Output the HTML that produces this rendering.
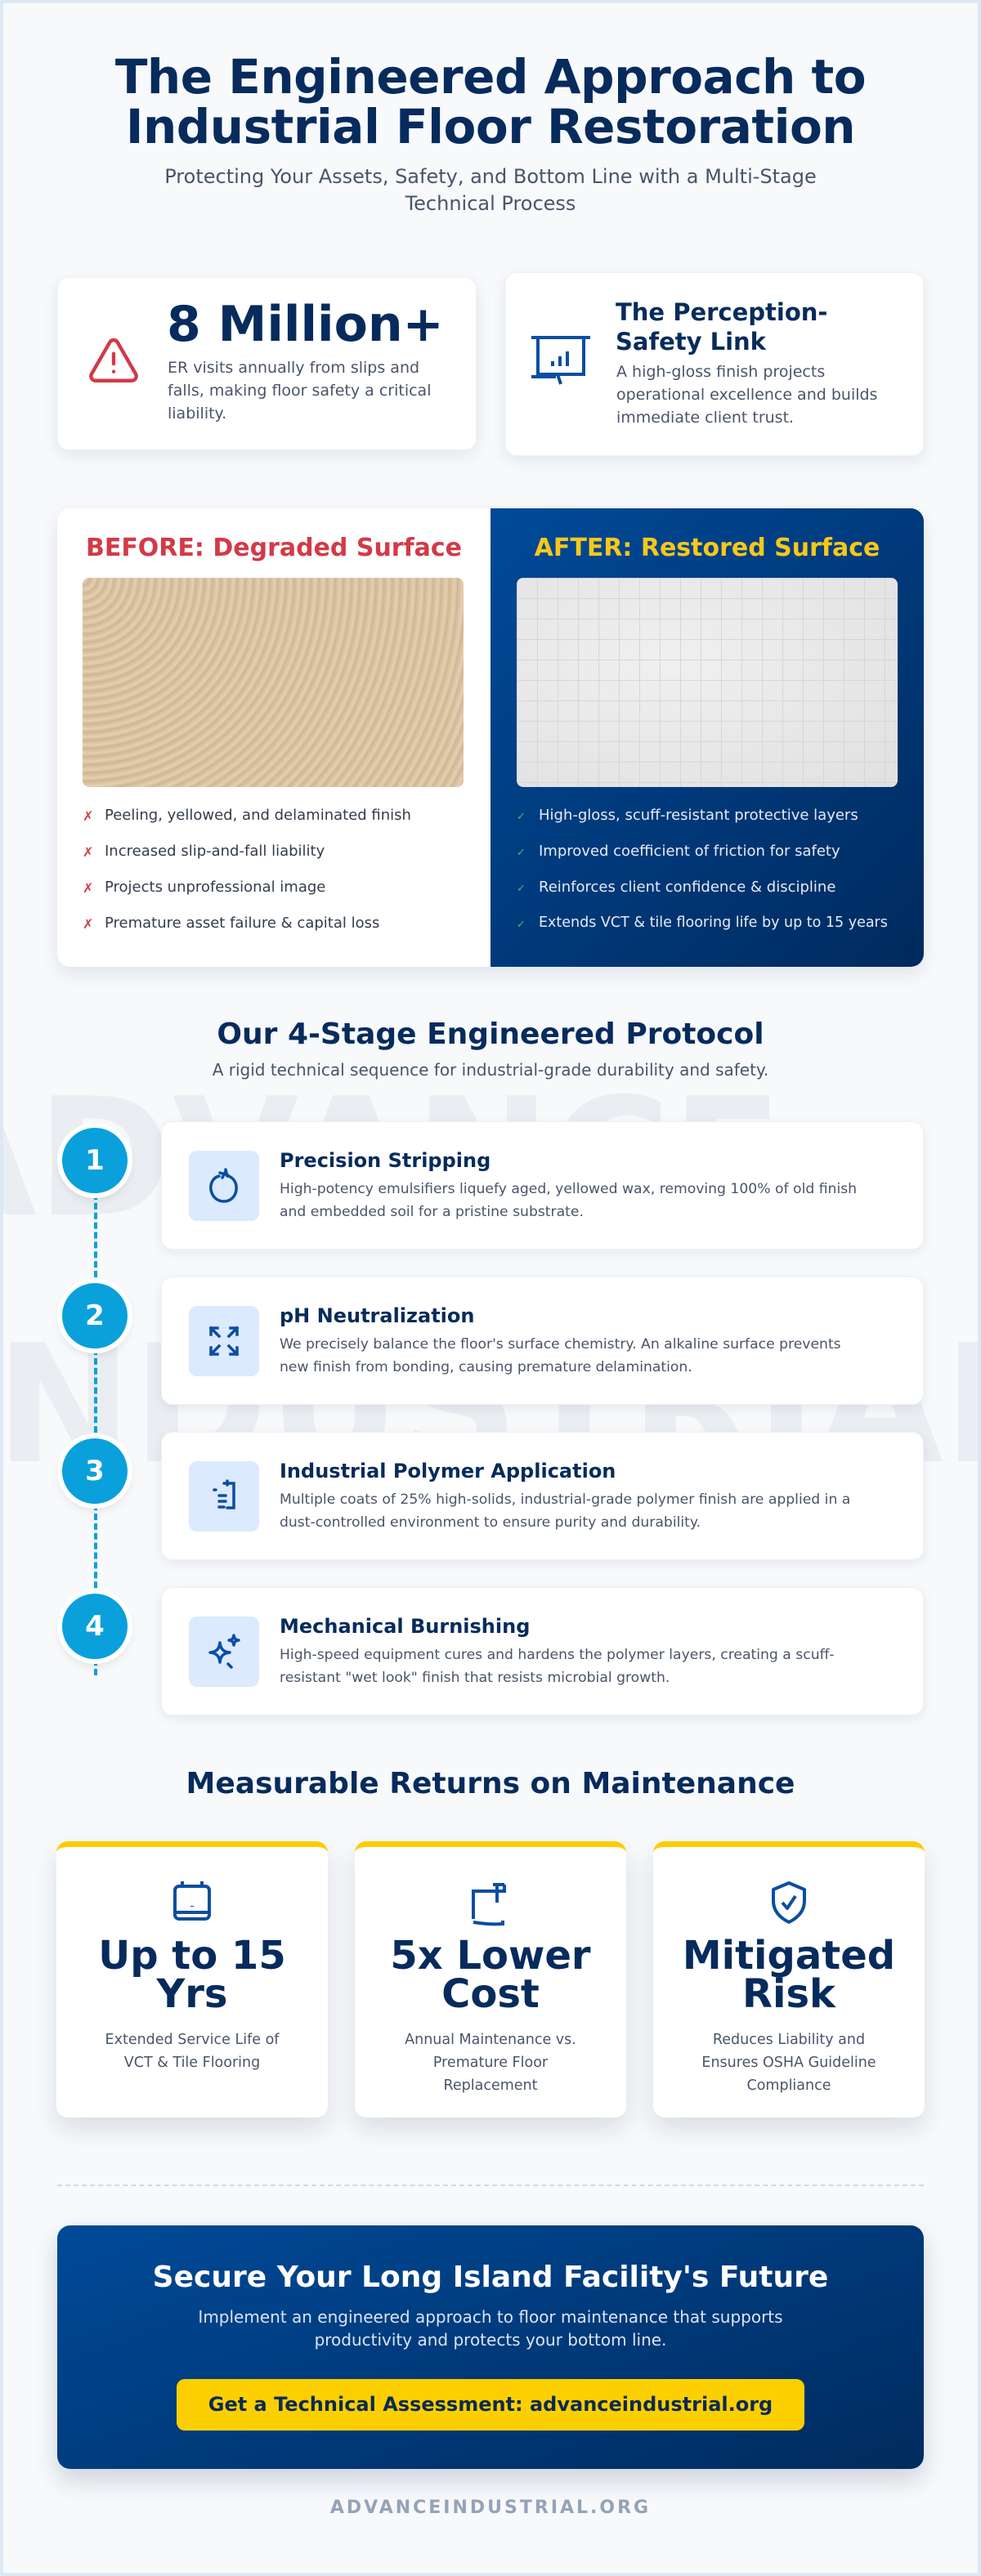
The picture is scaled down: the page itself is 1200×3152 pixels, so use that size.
<!DOCTYPE html>
<html><head><meta charset="utf-8"><style>
*{margin:0;padding:0;box-sizing:border-box}
html,body{width:1200px;height:3152px;overflow:hidden}
body{font-family:"DejaVu Sans","Liberation Sans",sans-serif;background:#f7f9fb;position:relative}
.frame{position:absolute;left:0;top:0;width:1200px;height:3152px;border:4px solid #dde8f3;pointer-events:none;z-index:20}
.a{position:absolute}
.c{text-align:center}
.navy{color:#062b5c}
.card{position:absolute;background:#fff;border-radius:14px;box-shadow:0 6px 18px rgba(20,40,80,.09);border:1px solid #eef1f5}
.wmwrap{position:absolute;left:0;top:1300px;width:1200px;height:560px;overflow:hidden}
.wm{position:absolute;font-weight:bold;font-size:200px;color:#eaeef2;line-height:1;white-space:nowrap}
.li{position:absolute;font-size:18px;white-space:nowrap}
.circ{position:absolute;left:76px;width:80px;height:80px;border-radius:50%;background:#0aa0dc;color:#fff;font-weight:bold;font-size:34px;text-align:center;line-height:80px;box-shadow:0 0 0 6px #fff,0 6px 14px rgba(0,0,0,.15)}
.step{position:absolute;left:197px;width:933px;height:157px;background:#fff;border-radius:14px;box-shadow:0 4px 14px rgba(20,40,80,.08);border:1px solid #eef1f5}
.ib{position:absolute;left:33px;top:35px;width:86px;height:86px;background:#dbeafe;border-radius:10px}
.st{position:absolute;left:144px;top:33px;font-weight:bold;font-size:24px;color:#062b5c;white-space:nowrap}
.sd{position:absolute;left:144px;top:68px;width:770px;font-size:17.2px;line-height:28px;color:#4a5568;white-space:nowrap}
.rc{position:absolute;top:2253px;width:332px;height:338px;background:#fff;border-radius:14px;border-top:7px solid #fccc00;box-shadow:0 14px 30px rgba(20,40,80,.13);text-align:center}
.rv{position:absolute;left:0;right:0;top:110px;font-weight:bold;font-size:48px;line-height:47px;color:#062b5c}
.rd{position:absolute;left:10px;right:10px;top:222px;font-size:17.5px;line-height:28px;color:#4a5568;white-space:nowrap}
.ri{position:absolute;left:141px;top:40px}
</style></head><body>
<div class="frame"></div>

<div class="a c navy" style="left:0;width:1200px;top:64px;font-weight:bold;font-size:58px;letter-spacing:-0.5px;line-height:61px">The Engineered Approach to<br>Industrial Floor Restoration</div>
<div class="a c" style="left:0;width:1200px;top:200px;font-size:24px;line-height:33px;color:#4a5568">Protecting Your Assets, Safety, and Bottom Line with a Multi-Stage<br>Technical Process</div>

<!-- stat cards -->
<div class="card" style="left:70px;top:339px;width:513px;height:212px"></div>
<svg class="a" style="left:104px;top:408px" width="70" height="66" viewBox="0 0 24 24" fill="none" stroke="#d23a48" stroke-width="1.6" stroke-linecap="round" stroke-linejoin="round"><path d="M10.3 3.9L2.2 18a2 2 0 0 0 1.7 3h16.2a2 2 0 0 0 1.7-3L13.7 3.9a2 2 0 0 0-3.4 0z"/><path d="M12 9v4.5"/><path d="M12 17h.01"/></svg>
<div class="a navy" style="left:204px;top:362px;font-weight:bold;font-size:60px;line-height:70px">8 Million+</div>
<div class="a" style="left:205px;top:436px;width:350px;font-size:19px;line-height:28px;color:#4a5568">ER visits annually from slips and falls, making floor safety a critical liability.</div>

<div class="card" style="left:618px;top:333px;width:512px;height:225px"></div>
<svg class="a" style="left:648px;top:410px" width="76" height="62" viewBox="0 0 76 62" fill="none" stroke="#0b4ea2" stroke-width="4"><path d="M2 3h72"/><path d="M10 3v45h56V3"/><path d="M2 51h30"/><path d="M34 48l4 12"/><path d="M28 38v-6M37 38v-12M46 38v-18" stroke-width="4"/></svg>
<div class="a navy" style="left:753px;top:364px;font-weight:bold;font-size:29px;line-height:36px">The Perception-<br>Safety Link</div>
<div class="a" style="left:754px;top:441px;width:350px;font-size:19px;line-height:28px;color:#4a5568">A high-gloss finish projects operational excellence and builds immediate client trust.</div>

<!-- before / after -->
<div class="a" style="left:70px;top:622px;width:1060px;height:561px;border-radius:16px;background:#fff;box-shadow:0 8px 22px rgba(20,40,80,.1);overflow:hidden">
  <div class="a" style="left:530px;top:0;width:530px;height:561px;background:linear-gradient(135deg,#004a99,#002a5e)"></div>
</div>
<div class="a c" style="left:70px;width:530px;top:653px;font-weight:bold;font-size:30px;color:#d23a48">BEFORE: Degraded Surface</div>
<div class="a c" style="left:600px;width:530px;top:653px;font-weight:bold;font-size:30px;color:#f7c81a">AFTER: Restored Surface</div>
<div class="a" style="left:101px;top:707px;width:466px;height:256px;border-radius:8px;background:repeating-radial-gradient(circle at 0 0,#d5bc98 0,#e3d0b3 5px,#d0b690 9px,#d5bc98 10px)"></div>
<div class="a" style="left:632px;top:707px;width:466px;height:256px;border-radius:8px;background:linear-gradient(#d6d6d6 1px,transparent 1px) 0 0/25px 25px,linear-gradient(90deg,#d6d6d6 1px,transparent 1px) 0 0/25px 25px,radial-gradient(ellipse at 40% 40%,#f0f0f0,#e0e0e0)"></div>
<div class="li" style="left:101px;top:989px;color:#d23a48;font-size:16px">✗</div><div class="li" style="left:128px;top:987px;color:#333d4a">Peeling, yellowed, and delaminated finish</div>
<div class="li" style="left:101px;top:1033px;color:#d23a48;font-size:16px">✗</div><div class="li" style="left:128px;top:1031px;color:#333d4a">Increased slip-and-fall liability</div>
<div class="li" style="left:101px;top:1077px;color:#d23a48;font-size:16px">✗</div><div class="li" style="left:128px;top:1075px;color:#333d4a">Projects unprofessional image</div>
<div class="li" style="left:101px;top:1121px;color:#d23a48;font-size:16px">✗</div><div class="li" style="left:128px;top:1119px;color:#333d4a">Premature asset failure &amp; capital loss</div>
<div class="li" style="left:632px;top:992px;color:#48bb78;font-size:13px">✓</div><div class="li" style="left:659px;top:987px;color:#e4ebf5">High-gloss, scuff-resistant protective layers</div>
<div class="li" style="left:632px;top:1036px;color:#48bb78;font-size:13px">✓</div><div class="li" style="left:659px;top:1031px;color:#e4ebf5">Improved coefficient of friction for safety</div>
<div class="li" style="left:632px;top:1080px;color:#48bb78;font-size:13px">✓</div><div class="li" style="left:659px;top:1075px;color:#e4ebf5">Reinforces client confidence &amp; discipline</div>
<div class="li" style="left:632px;top:1124px;color:#48bb78;font-size:13px">✓</div><div class="li" style="left:659px;top:1119px;color:#e4ebf5;font-size:17.5px">Extends VCT &amp; tile flooring life by up to 15 years</div>

<!-- protocol -->
<div class="wmwrap">
<div class="wm" style="left:-110px;top:18px">ADVANCE</div>
<div class="wm" style="left:-80px;top:320px">INDUSTRIAL</div>
</div>
<div class="a c navy" style="left:0;width:1200px;top:1245px;font-weight:bold;font-size:36px">Our 4-Stage Engineered Protocol</div>
<div class="a c" style="left:0;width:1200px;top:1297px;font-size:20px;color:#4a5568">A rigid technical sequence for industrial-grade durability and safety.</div>
<div class="a" style="left:115px;top:1460px;width:0;height:590px;border-left:4px dashed #0aa0dc"></div>
<div class="circ" style="top:1380px">1</div>
<div class="circ" style="top:1570px">2</div>
<div class="circ" style="top:1760px">3</div>
<div class="circ" style="top:1950px">4</div>

<div class="step" style="top:1372px"><div class="ib"><svg class="a" style="left:23px;top:21px" width="40" height="44" viewBox="0 0 40 44" fill="none" stroke="#0b4ea2" stroke-width="3.5" stroke-linecap="round"><path d="M14 10C6 12 3 20 4 27c2 10 9 14 16 14s14-5 15-14c1-8-3-15-10-17"/><path d="M18 12l4-8M15 6l10 3M22 2l2 8"/></svg></div><div class="st">Precision Stripping</div><div class="sd">High-potency emulsifiers liquefy aged, yellowed wax, removing 100% of old finish<br>and embedded soil for a pristine substrate.</div></div>
<div class="step" style="top:1562px"><div class="ib"><svg class="a" style="left:23px;top:23px" width="40" height="40" viewBox="0 0 40 40" fill="none" stroke="#0b4ea2" stroke-width="3.5" stroke-linecap="square"><path d="M4 4l10 10M4 4h8M4 4v8"/><path d="M36 4L26 14M36 4h-8M36 4v8"/><path d="M4 36l10-10M4 36h8M4 36v-8"/><path d="M36 36L26 26M36 36h-8M36 36v-8"/></svg></div><div class="st">pH Neutralization</div><div class="sd">We precisely balance the floor's surface chemistry. An alkaline surface prevents<br>new finish from bonding, causing premature delamination.</div></div>
<div class="step" style="top:1752px"><div class="ib"><svg class="a" style="left:25px;top:22px" width="36" height="42" viewBox="0 0 36 42" fill="none" stroke="#0b4ea2" stroke-width="3.5" stroke-linecap="round"><path d="M18 5h12v30h-8"/><path d="M22 2v5"/><path d="M6 13h2M12 20h8M12 27h8M12 34h6"/></svg></div><div class="st">Industrial Polymer Application</div><div class="sd">Multiple coats of 25% high-solids, industrial-grade polymer finish are applied in a<br>dust-controlled environment to ensure purity and durability.</div></div>
<div class="step" style="top:1942px"><div class="ib"><svg class="a" style="left:20px;top:20px" width="48" height="46" viewBox="0 0 48 46" fill="none" stroke="#0b4ea2" stroke-width="3.5" stroke-linejoin="round" stroke-linecap="round"><path d="M18 12c1 8 4 11 12 12-8 1-11 4-12 12-1-8-4-11-12-12 8-1 11-4 12-12z"/><path d="M35 3c.5 4 2 5.5 6 6-4 .5-5.5 2-6 6-.5-4-2-5.5-6-6 4-.5 5.5-2 6-6z"/><path d="M28 38l4 4"/></svg></div><div class="st">Mechanical Burnishing</div><div class="sd">High-speed equipment cures and hardens the polymer layers, creating a scuff-<br>resistant "wet look" finish that resists microbial growth.</div></div>

<!-- returns -->
<div class="a c navy" style="left:0;width:1200px;top:2162px;font-weight:bold;font-size:36px">Measurable Returns on Maintenance</div>
<div class="rc" style="left:69px"><svg class="ri" width="50" height="52" viewBox="0 0 50 52" fill="none" stroke="#0b4ea2" stroke-width="4"><rect x="4" y="8" width="42" height="40" rx="5"/><path d="M13 2v8M37 2v8M4 40h42"/><path d="M25 32v1"/></svg><div class="rv">Up to 15<br>Yrs</div><div class="rd">Extended Service Life of<br>VCT &amp; Tile Flooring</div></div>
<div class="rc" style="left:434px"><svg class="ri" width="50" height="60" viewBox="0 0 50 60" fill="none" stroke="#0b4ea2" stroke-width="4"><path d="M4 48V14h38"/><path d="M33 6v22M28 6h14M42 6v10"/><path d="M4 52c12 2 24 3 36 2v-4"/></svg><div class="rv">5x Lower<br>Cost</div><div class="rd">Annual Maintenance vs.<br>Premature Floor<br>Replacement</div></div>
<div class="rc" style="left:799px"><svg class="ri" width="50" height="56" viewBox="0 0 50 56" fill="none" stroke="#0b4ea2" stroke-width="4" stroke-linejoin="round"><path d="M25 4L6 12v14c0 13 9 21 19 26 10-5 19-13 19-26V12z"/><path d="M17 28l6 7 10-15"/></svg><div class="rv">Mitigated<br>Risk</div><div class="rd">Reduces Liability and<br>Ensures OSHA Guideline<br>Compliance</div></div>

<div class="a" style="left:70px;top:2673px;width:1060px;border-top:2px dashed #cfd8e3"></div>

<!-- CTA -->
<div class="a" style="left:70px;top:2723px;width:1060px;height:298px;border-radius:16px;background:linear-gradient(160deg,#004a99,#002b5e);box-shadow:0 14px 30px rgba(20,40,80,.18)"></div>
<div class="a c" style="left:0;width:1200px;top:2766px;font-weight:bold;font-size:36px;color:#fff">Secure Your Long Island Facility's Future</div>
<div class="a c" style="left:0;width:1200px;top:2821px;font-size:20px;line-height:28px;color:#d9e4f3">Implement an engineered approach to floor maintenance that supports<br>productivity and protects your bottom line.</div>
<div class="a c" style="left:216px;top:2911px;width:768px;height:63px;border-radius:10px;background:#fccf00;line-height:63px;font-weight:bold;font-size:24px;color:#0b2a55">Get a Technical Assessment: advanceindustrial.org</div>

<div class="a c" style="left:0;width:1200px;top:3056px;font-weight:bold;font-size:22px;letter-spacing:3px;color:#94a3b8">ADVANCEINDUSTRIAL.ORG</div>
</body></html>
